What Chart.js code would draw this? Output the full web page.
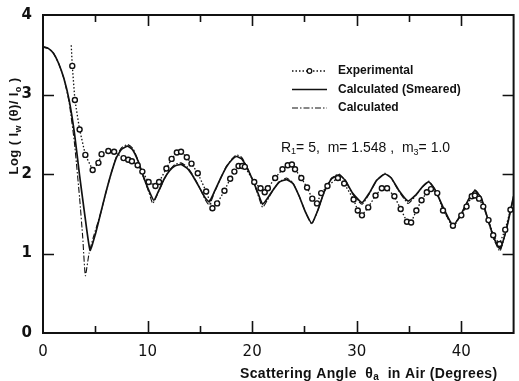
<!DOCTYPE html>
<html>
<head>
<meta charset="utf-8">
<script src="https://cdn.jsdelivr.net/npm/chart.js@4.4.1/dist/chart.umd.min.js"></script>
<style>
html, body { margin: 0; padding: 0; background: #fff; }
#wrap { width: 519px; height: 381px; }
</style>
</head>
<body>
<div id="wrap"><canvas id="chart" width="519" height="381"></canvas></div>
<script>
// experimental points (deg, log intensity); first entry is the top end of the dotted line
const expX = [2.7, 2.8, 3.05, 3.5, 4.05, 4.75, 5.3, 5.6, 6.25, 6.8, 7.7, 8.15, 8.5, 9.05, 9.5, 10.1, 10.75, 11.1, 11.8, 12.3,
  12.8, 13.2, 13.75, 14.2, 14.8, 15.6, 16.2, 16.65, 17.35, 17.9, 18.3, 18.7, 19.05, 19.3, 20.2, 20.8, 21.2, 21.5, 22.2, 22.9,
  23.4, 23.8, 24.1, 24.7, 25.25, 25.75, 26.2, 26.6, 27.2, 28.2, 28.8, 29.7, 30.1, 30.5, 31.1, 31.8, 32.4, 32.9, 33.6, 34.2,
  34.8, 35.2, 35.7, 36.2, 36.7, 37.1, 37.7, 38.25, 39.2, 40.0, 40.5, 41.0, 41.3, 41.7, 42.1, 42.6, 43.05, 43.65, 44.2, 44.7];
const expY = [3.62, 3.36, 2.93, 2.56, 2.24, 2.05, 2.14, 2.25, 2.29, 2.28, 2.2, 2.18, 2.16, 2.11, 2.03, 1.9, 1.85, 1.9, 2.07, 2.19,
  2.27, 2.28, 2.21, 2.13, 2.01, 1.78, 1.57, 1.63, 1.79, 1.94, 2.03, 2.1, 2.1, 2.09, 1.9, 1.82, 1.77, 1.82, 1.95, 2.06,
  2.11, 2.12, 2.06, 1.95, 1.83, 1.69, 1.63, 1.76, 1.85, 1.95, 1.88, 1.68, 1.54, 1.48, 1.58, 1.73, 1.82, 1.82, 1.72, 1.56,
  1.4, 1.39, 1.54, 1.67, 1.77, 1.81, 1.76, 1.54, 1.35, 1.48, 1.59, 1.72, 1.73, 1.69, 1.59, 1.42, 1.23, 1.12, 1.3, 1.55];

// calculated (smeared) - solid line
const smX = [0, 0.5, 1, 1.5, 2, 2.5, 3, 3.5, 4, 4.5, 5, 5.5, 6, 6.5, 7, 7.5, 8.1, 8.6, 9.1, 9.6,
  10.1, 10.6, 11.1, 11.6, 12.1, 12.6, 13.2, 13.8, 14.4, 15, 15.5, 15.9, 16.4, 17, 17.5, 18, 18.5, 19, 19.5, 20,
  20.5, 21, 21.5, 22, 22.6, 23.3, 23.9, 24.5, 25.1, 25.7, 26.3, 26.9, 27.6, 28.3, 28.9, 29.6, 30.5, 31.2, 31.9, 32.7,
  33.3, 34, 34.9, 35.6, 36.3, 36.9, 37.5, 38.3, 39.2, 40, 40.7, 41.3, 41.9, 42.5, 43.1, 43.7, 44.3, 45];
const smY = [3.6, 3.58, 3.52, 3.39, 3.2, 2.93, 2.52, 1.98, 1.48, 1.04, 1.24, 1.5, 1.76, 2.0, 2.2, 2.31, 2.35, 2.3, 2.16, 1.97,
  1.8, 1.67, 1.8, 1.94, 2.04, 2.1, 2.12, 2.07, 1.96, 1.82, 1.7, 1.65, 1.78, 1.95, 2.08, 2.17, 2.22, 2.19, 2.08, 1.94,
  1.78, 1.62, 1.7, 1.8, 1.9, 1.93, 1.88, 1.72, 1.52, 1.38, 1.55, 1.78, 1.94, 1.99, 1.92, 1.76, 1.64, 1.76, 1.92, 2.0,
  1.95, 1.8, 1.66, 1.73, 1.84, 1.9, 1.8, 1.57, 1.35, 1.5, 1.68, 1.79, 1.7, 1.45, 1.2, 1.06, 1.3, 1.72];

// calculated - dash-dot line
const calX = [0, 0.5, 1, 1.5, 2, 2.5, 3, 3.5, 3.8, 4.05, 4.4, 4.8, 5.5, 6, 6.5, 7, 7.5, 8.1, 8.6, 9.1,
  9.6, 10.1, 10.5, 11.1, 11.6, 12.1, 12.6, 13.2, 13.8, 14.4, 15, 15.5, 15.9, 16.4, 17, 17.5, 18, 18.5, 19, 19.5,
  20, 20.5, 21, 21.5, 22, 22.6, 23.3, 23.9, 24.5, 25.1, 25.7, 26.3, 26.9, 27.6, 28.3, 28.9, 29.6, 30.5, 31.2, 31.9,
  32.7, 33.3, 34, 34.9, 35.6, 36.3, 36.9, 37.5, 38.3, 39.2, 40, 40.7, 41.3, 41.9, 42.5, 43.1, 43.7, 44.3, 45];
const calY = [3.6, 3.58, 3.52, 3.39, 3.2, 2.9, 2.4, 1.7, 1.2, 0.72, 1.0, 1.2, 1.5, 1.76, 2.0, 2.21, 2.33, 2.37, 2.32, 2.17,
  1.96, 1.78, 1.63, 1.79, 1.94, 2.05, 2.12, 2.14, 2.09, 1.97, 1.82, 1.68, 1.61, 1.77, 1.95, 2.09, 2.18, 2.24, 2.21, 2.09,
  1.94, 1.76, 1.58, 1.68, 1.8, 1.9, 1.95, 1.89, 1.72, 1.52, 1.37, 1.55, 1.78, 1.95, 2.0, 1.92, 1.75, 1.62, 1.75, 1.92,
  2.01, 1.95, 1.79, 1.63, 1.72, 1.84, 1.91, 1.8, 1.56, 1.33, 1.5, 1.68, 1.8, 1.7, 1.44, 1.18, 1.03, 1.3, 1.72];

const seriesNames = ['Experimental', 'Calculated (Smeared)', 'Calculated'];
const xLabelTicks = [0, 10, 20, 30, 40];
const yLabelTicks = [0, 1, 2, 3, 4];

const ink = '#111';
const toPts = (xs, ys) => xs.map((x, i) => ({ x: x, y: ys[i] }));

// draws a run of [text, font, dy] pieces starting at x, returns end x
function drawRun(ctx, parts, x, y) {
  parts.forEach(([s, f, dy]) => {
    ctx.font = f;
    ctx.fillText(s, x, y + dy);
    x += ctx.measureText(s).width;
  });
  return x;
}
function runWidth(ctx, parts) {
  let w = 0;
  parts.forEach(([s, f]) => { ctx.font = f; w += ctx.measureText(s).width; });
  return w;
}

// white page, frame with inward ticks, legend and the hand-placed texts
const paperPlugin = {
  id: 'paper',
  beforeDraw(chart) {
    const ctx = chart.ctx;
    ctx.save();
    ctx.fillStyle = '#fff';
    ctx.fillRect(0, 0, chart.width, chart.height);
    ctx.restore();
  },
  afterDraw(chart) {
    const { ctx, chartArea: a } = chart;
    const xs = chart.scales.x, ys = chart.scales.y;
    ctx.save();
    ctx.strokeStyle = ink;
    ctx.lineWidth = 2;
    ctx.strokeRect(a.left, a.top, a.right - a.left, a.bottom - a.top);

    ctx.lineWidth = 1.6;
    xs.ticks.forEach(t => {
      if (t.value <= 0 || t.value >= 45) return;
      const px = Math.round(xs.getPixelForValue(t.value)) + 0.5;
      const major = t.value % 10 === 0;
      const lb = major ? 12 : 7, lt = major ? 11 : 7;
      ctx.beginPath();
      ctx.moveTo(px, a.bottom); ctx.lineTo(px, a.bottom - lb);
      ctx.moveTo(px, a.top); ctx.lineTo(px, a.top + lt);
      ctx.stroke();
    });
    ys.ticks.forEach(t => {
      if (t.value <= 0 || t.value >= 4) return;
      const py = Math.round(ys.getPixelForValue(t.value)) + 0.5;
      ctx.beginPath();
      ctx.moveTo(a.left, py); ctx.lineTo(a.left + 11, py);
      ctx.moveTo(a.right, py); ctx.lineTo(a.right - 11, py);
      ctx.stroke();
    });

    // legend
    const ds = chart.data.datasets;
    const lx0 = 292, lx1 = 327, tx = 338;
    const rows = [71, 89.5, 108];
    ctx.font = 'bold 12px "Liberation Sans", Arial, sans-serif';
    ctx.textBaseline = 'middle';
    ctx.fillStyle = ink;
    rows.forEach((ry, i) => {
      const d = ds[i];
      ctx.setLineDash(d.borderDash || []);
      ctx.lineWidth = d.borderWidth;
      ctx.beginPath();
      ctx.moveTo(lx0, ry); ctx.lineTo(lx1, ry);
      ctx.stroke();
      ctx.setLineDash([]);
      if (i === 0) {
        ctx.beginPath();
        ctx.arc((lx0 + lx1) / 2, ry, 2.3, 0, Math.PI * 2);
        ctx.fillStyle = '#fff'; ctx.fill();
        ctx.lineWidth = 1.3; ctx.stroke();
        ctx.fillStyle = ink;
      }
      ctx.fillText(seriesNames[i], tx, ry);
    });

    // parameter note
    ctx.textBaseline = 'alphabetic';
    const note = '14px "Liberation Sans", Arial, sans-serif';
    const noteSub = '9px "Liberation Sans", Arial, sans-serif';
    drawRun(ctx, [['R', note, 0], ['1', noteSub, 2], ['= 5,  m= 1.548 ,  m', note, 0], ['3', noteSub, 3], ['= 1.0', note, 0]], 281, 152);

    // x axis title with subscript
    const bigX = 'bold 14px "Liberation Sans", Arial, sans-serif';
    const smallX = 'bold 10px "Liberation Sans", Arial, sans-serif';
    ctx.letterSpacing = '0.35px';
    drawRun(ctx, [['Scattering Angle  \u03b8', bigX, 0], ['a', smallX, 2], ['  in Air (Degrees)', bigX, 0]], 240, 378);

    // y axis title, rotated
    const bigY = 'bold 13px "Liberation Sans", Arial, sans-serif';
    const smallY = 'bold 9px "Liberation Sans", Arial, sans-serif';
    ctx.letterSpacing = '0.4px';
    const parts = [['Log ( I', bigY, 0], ['w', smallY, 3], [' (\u03b8)/ I', bigY, 0], ['o', smallY, 3], [' )', bigY, 0]];
    const total = runWidth(ctx, parts);
    ctx.translate(18, 126);
    ctx.rotate(-Math.PI / 2);
    drawRun(ctx, parts, -total / 2, 0);
    ctx.restore();
  }
};

new Chart(document.getElementById('chart'), {
  type: 'scatter',
  data: {
    datasets: [
      {
        label: seriesNames[0],
        data: toPts(expX, expY),
        showLine: true,
        borderColor: ink,
        borderWidth: 1.3,
        borderDash: [1.5, 2],
        pointRadius: expX.map((_, i) => i === 0 ? 0 : 2.5),
        pointBorderWidth: 1.4,
        pointBorderColor: ink,
        pointBackgroundColor: '#fff',
        tension: 0
      },
      {
        label: seriesNames[1],
        data: toPts(smX, smY),
        showLine: true,
        borderColor: ink,
        borderWidth: 1.7,
        pointRadius: 0,
        tension: 0.15
      },
      {
        label: seriesNames[2],
        data: toPts(calX, calY),
        showLine: true,
        borderColor: ink,
        borderWidth: 1.1,
        borderDash: [6, 2, 1.5, 2],
        pointRadius: 0,
        tension: 0.15
      }
    ]
  },
  options: {
    responsive: false,
    animation: false,
    layout: { padding: { left: 0, right: 2, top: 15, bottom: 0 } },
    plugins: { legend: { display: false }, tooltip: { enabled: false } },
    scales: {
      x: {
        type: 'linear',
        min: 0, max: 45,
        afterFit: s => { s.height = 48; },
        afterBuildTicks: s => { s.ticks = [0, 5, 10, 15, 20, 25, 30, 35, 40, 45].map(v => ({ value: v })); },
        grid: { display: false },
        border: { display: false },
        ticks: {
          autoSkip: false,
          maxRotation: 0,
          padding: 2,
          color: ink,
          font: { family: '"DejaVu Sans", sans-serif', size: 15 },
          callback: v => xLabelTicks.includes(v) ? String(v) : ''
        }
      },
      y: {
        min: 0, max: 4,
        afterFit: s => { s.width = 43; },
        afterBuildTicks: s => { s.ticks = yLabelTicks.map(v => ({ value: v })); },
        grid: { display: false },
        border: { display: false },
        ticks: {
          padding: 3,
          color: ink,
          font: { family: '"DejaVu Sans", sans-serif', size: 15, weight: 'bold' }
        }
      }
    }
  },
  plugins: [paperPlugin]
});
</script>
</body>
</html>
